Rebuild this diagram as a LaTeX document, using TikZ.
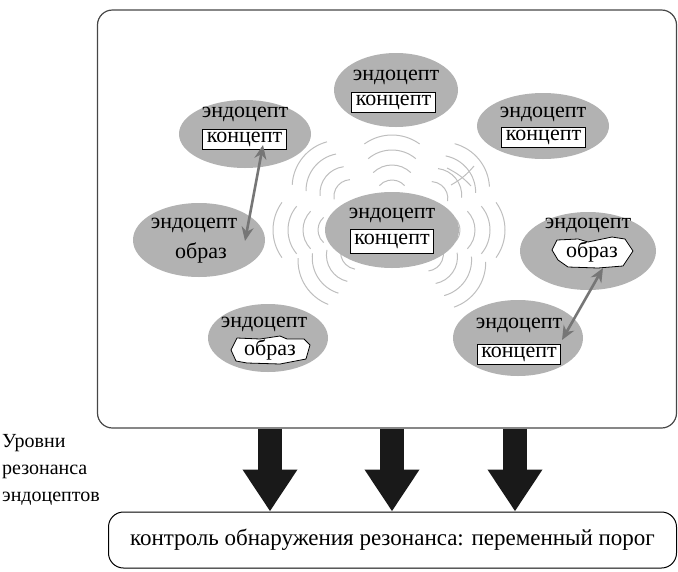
\documentclass[tikz,border=0pt]{standalone}
\usepackage{fontspec}
\setmainfont{Liberation Serif}
\usetikzlibrary{shapes.geometric,arrows.meta,calc}
\definecolor{ellgray}{RGB}{178,178,178}
\definecolor{wavegray}{RGB}{190,190,190}
\definecolor{linkgray}{RGB}{118,118,118}
\definecolor{framegray}{RGB}{70,70,70}
\begin{document}
\begin{tikzpicture}[x=1pt,y=1pt,
  endo/.style={ellipse, fill=ellgray, draw=none, inner sep=0pt},
  lab/.style={font=\fontsize{22}{24}\selectfont, inner sep=0pt, anchor=base},
  kbox/.style={draw, line width=1.1pt, fill=white, font=\fontsize{22}{24}\selectfont,
    inner xsep=4pt, inner ysep=2pt, text height=11pt, text depth=4.5pt},
  imgshape/.style={draw, line width=0.8pt, fill=white, line join=round},
  wave/.style={draw=wavegray, line width=1pt},
  link/.style={draw=linkgray, line width=2.6pt,
    {Stealth[length=14pt,width=12pt]}-{Stealth[length=14pt,width=12pt]}},
  big/.style={line width=24pt, -{Triangle[width=52pt,length=42pt]}, draw=black!90},
  frame/.style={draw=framegray, line width=1.2pt, rounded corners=15pt, inner sep=0pt}
]
\useasboundingbox (0,0) rectangle (678,-571);

% main frame
\node[frame, minimum width=579pt, minimum height=418pt] (main) at (387,-219) {};

% waves around the central endocept
\coordinate (ecc) at (392,-230);
\foreach \th/\D in {90/50, 180/74, 0/68, 141/70, 39/67, 213/58, 325/59} {
  \foreach \k in {0,1,2,3} {
    \pgfmathsetmacro\Rk{17+10*\k}
    \pgfmathsetmacro\Dk{\D+15*\k}
    \pgfmathsetmacro\Bk{48-4*\k}
    \draw[wave] ($(ecc)+(\th:{\Dk-\Rk})+({\th-\Bk}:\Rk)$)
      arc[start angle=\th-\Bk, end angle=\th+\Bk, radius=\Rk];
  }
}
\draw[wave] (447,-168) to[bend left=10] (471,-186);
\draw[wave] (451,-185) to[bend right=10] (474,-166);

% endocept ellipses
\node[endo, minimum width=124pt, minimum height=74pt] (ETC) at (396,-90) {};
\node[endo, minimum width=132pt, minimum height=68pt] (ETL) at (245,-134) {};
\node[endo, minimum width=132pt, minimum height=66pt] (ETR) at (543,-126) {};
\node[endo, minimum width=132pt, minimum height=74pt] (EML) at (199,-240) {};
\node[endo, minimum width=134pt, minimum height=76pt] (EC)  at (392,-230) {};
\node[endo, minimum width=136pt, minimum height=78pt] (EMR) at (588,-251) {};
\node[endo, minimum width=120pt, minimum height=68pt] (EBL) at (268,-338) {};
\node[endo, minimum width=130pt, minimum height=76pt] (EBR) at (518,-338) {};

% texts
\node[lab] (ETCt) at (396,-80) {эндоцепт};
\node[kbox] (ETCk) at (393.5,-102.5) {концепт};
\node[lab] (ETLt) at (245,-117) {эндоцепт};
\node[kbox] (ETLk) at (244.5,-139.5) {концепт};
\node[lab] (ETRt) at (543,-117) {эндоцепт};
\node[kbox] (ETRk) at (543.5,-137.5) {концепт};
\node[lab] (EMLt) at (194,-228) {эндоцепт};
\node[lab] (EMLi) at (201,-258) {образ};
\node[lab] (ECt) at (392,-218) {эндоцепт};
\node[kbox, inner ysep=4pt] (ECk) at (392,-241.5) {концепт};
\node[lab] (EMRt) at (588,-228) {эндоцепт};
\draw[imgshape] (552,-250) -- (557,-240) -- (578,-239) -- (588,-242) -- (612,-237)
  -- (625,-239) -- (633,-251) -- (623,-266) -- (598,-268) -- (568,-267) -- (558,-260) -- cycle;
\node[lab] (EMRi) at (592,-257) {образ};
\node[lab] (EBLt) at (264,-327) {эндоцепт};
\draw[imgshape] (231,-350) -- (237,-338) -- (260,-339) -- (280,-336) -- (287,-339)
  -- (304,-339) -- (310,-345) -- (306,-359) -- (280,-364) -- (247,-363) -- (236,-361) -- cycle;
\node[lab] (EBLi) at (270,-355) {образ};
\node[lab] (EBRt) at (519,-328) {эндоцепт};
\node[kbox] (EBRk) at (519,-354.5) {концепт};

% gray links
\draw[link] ([shift={(18.5pt,-5.5pt)}]ETLk.center) -- ([shift={(44pt,17pt)}]EMLi.base);
\draw[link] ([shift={(11pt,-11pt)}]EMRi.base) -- ([shift={(43pt,14.5pt)}]EBRk.center);

% bottom box
\node[draw, line width=1pt, rounded corners=15pt, minimum width=568pt, minimum height=56pt,
  font=\fontsize{23}{25}\selectfont] (bot) at (392.5,-540) {контроль обнаружения резонанса: переменный порог};

% big arrows
\coordinate (c1) at (270,0);
\coordinate (c2) at (392,0);
\coordinate (c3) at (515,0);
\foreach \c in {c1,c2,c3} {
  \draw[big] (main.south -| \c) -- (bot.north -| \c);
}

% side label
\node[anchor=west, align=left, inner sep=0pt, font=\fontsize{20}{27}\selectfont] (lvl) at (2,-470)
  {Уровни\\резонанса\\эндоцептов};
\end{tikzpicture}
\end{document}
